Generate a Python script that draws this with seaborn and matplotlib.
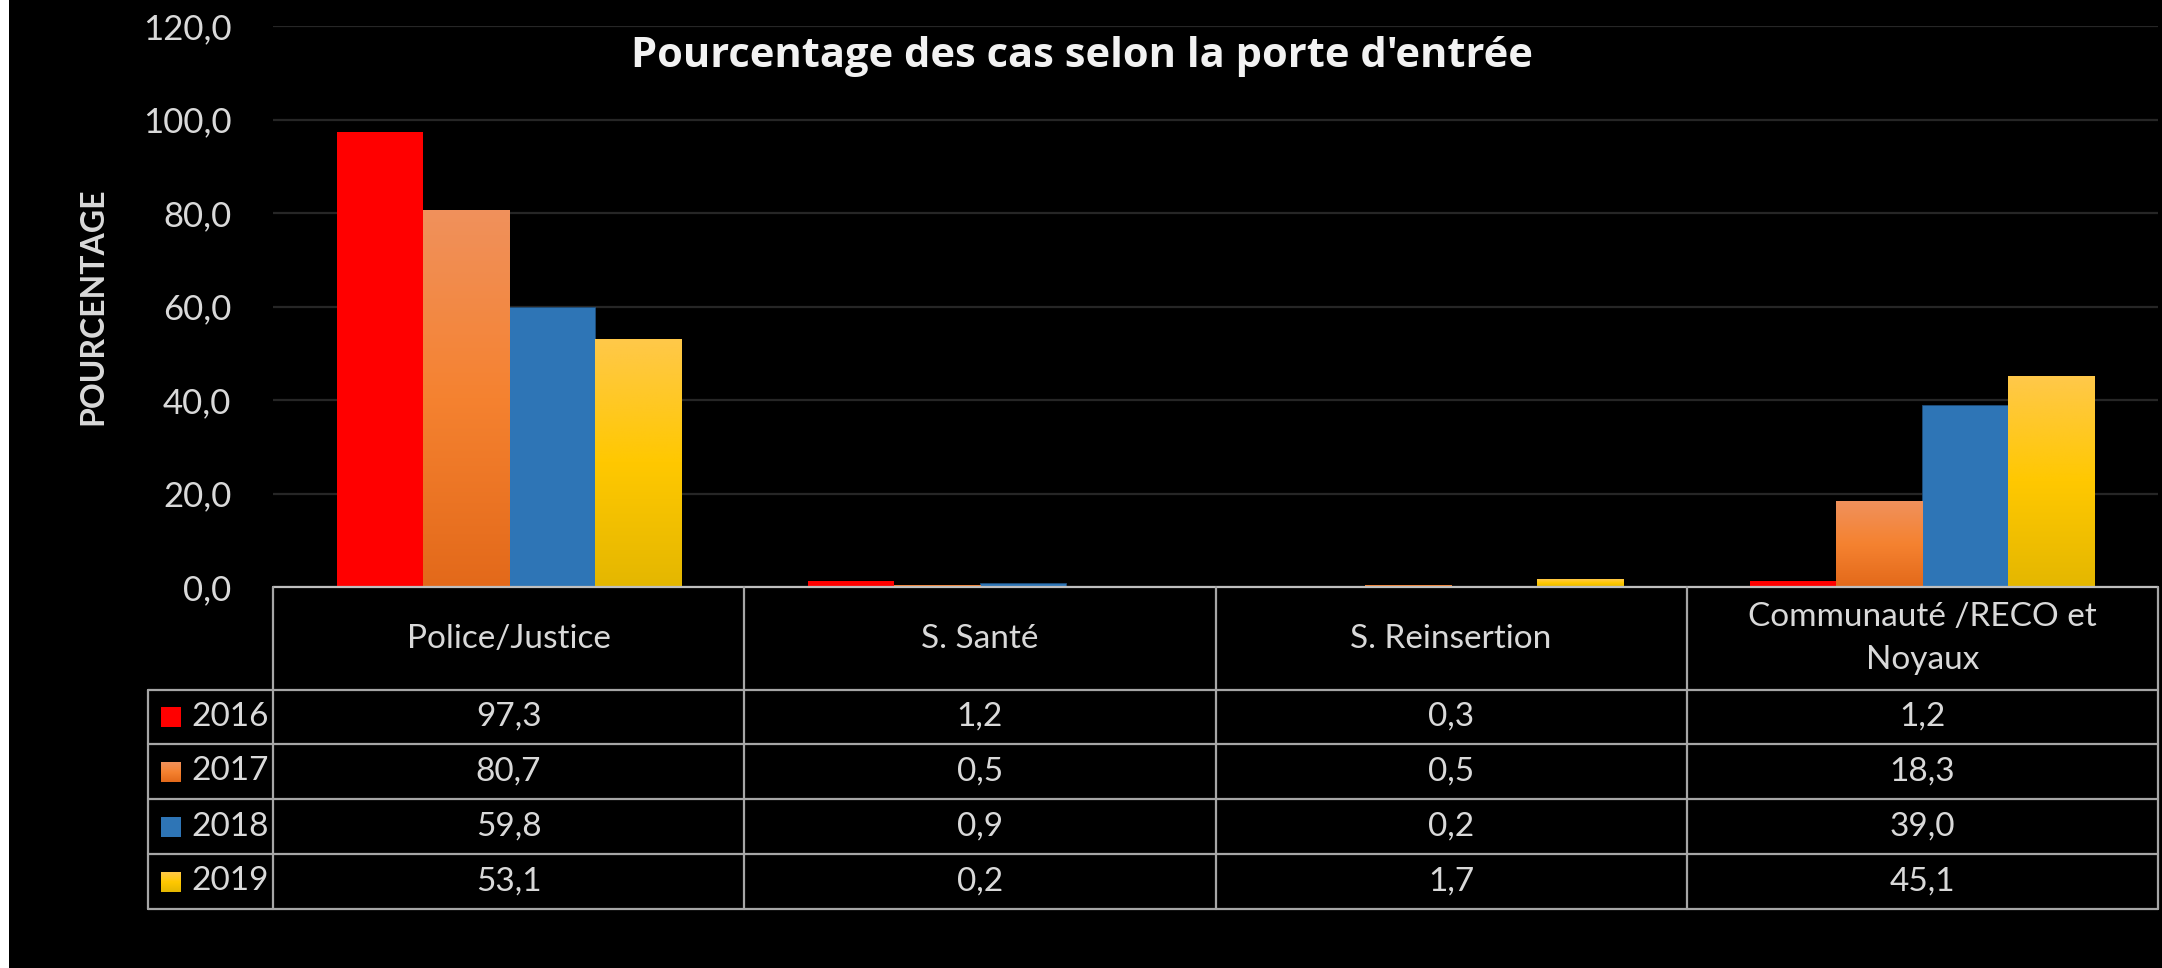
import numpy as np
import pandas as pd
import seaborn as sns
import matplotlib.pyplot as plt
from matplotlib.colors import LinearSegmentedColormap
from matplotlib.patches import Rectangle
from matplotlib.ticker import FuncFormatter
from matplotlib.transforms import blended_transform_factory

categories = ["Police/Justice", "S. Santé", "S. Reinsertion", "Communauté /RECO et\nNoyaux"]
years = ["2016", "2017", "2018", "2019"]
v2016 = [97.3, 1.2, 0.3, 1.2]
v2017 = [80.7, 0.5, 0.5, 18.3]
v2018 = [59.8, 0.9, 0.2, 39.0]
v2019 = [53.1, 0.2, 1.7, 45.1]
yticks = [0, 20, 40, 60, 80, 100, 120]

values = [v2016, v2017, v2018, v2019]
df = pd.DataFrame({
    "porte": categories * len(years),
    "annee": np.repeat(years, len(categories)),
    "pct": sum(values, []),
})

base_colors = {"2016": "#FF0000", "2017": "#F27F34", "2018": "#2E75B6", "2019": "#FFC60A"}
gradients = {
    "2017": LinearSegmentedColormap.from_list("g17", ["#E3691A", "#F58230", "#F0915C"]),
    "2019": LinearSegmentedColormap.from_list("g19", ["#E4B700", "#FFC800", "#FFC84A"]),
}

W, H = 2162, 968
FONT = "Lato"
TXT = "#D9D9D9"
LINE = "#A6A6A6"

sns.set_theme(style="dark")
plt.rcParams["font.family"] = [FONT, "DejaVu Sans"]

fig = plt.figure(figsize=(W / 100, H / 100), dpi=100, facecolor="black")
fig.patches.append(Rectangle((0, 0), 9 / W, 1, transform=fig.transFigure,
                             facecolor="white", edgecolor="none"))

ax = fig.add_axes([273 / W, 1 - 587 / H, (2158 - 273) / W, (587 - 26) / H])
ax.set_facecolor("black")

sns.barplot(data=df, x="porte", y="pct", hue="annee", hue_order=years,
            palette=base_colors, width=0.73, gap=0, saturation=1,
            linewidth=0, legend=False, ax=ax, zorder=3)

# vertical gradients on 2017 / 2019 bars
grad = np.linspace(0, 1, 256).reshape(-1, 1)
for year, cont in zip(years, ax.containers):
    for bar in cont:
        if year == "2018":
            bar.set_edgecolor("#1F4E79")
            bar.set_linewidth(0.6)
        if year in gradients and bar.get_height() > 0:
            x0, w, h = bar.get_x(), bar.get_width(), bar.get_height()
            im = ax.imshow(grad, extent=[x0, x0 + w, 0, h], origin="lower",
                           aspect="auto", cmap=gradients[year], zorder=4)
            im.set_clip_path(bar)

ax.set_xlim(-0.5, len(categories) - 0.5)
ax.set_ylim(0, 120)
ax.set_yticks(yticks)
ax.yaxis.set_major_formatter(FuncFormatter(lambda v, p: f"{v:.1f}".replace(".", ",")))
ax.tick_params(axis="y", length=0, pad=30, labelsize=25, labelcolor=TXT)
ax.set_xticks([])
ax.set_xlabel("")
ax.set_axisbelow(True)
ax.yaxis.grid(True, color="#262626", lw=1.6)
ax.xaxis.grid(False)
for s in ax.spines.values():
    s.set_visible(False)

ax.set_ylabel("POURCENTAGE", fontsize=23, fontweight="bold", color=TXT)
ax.yaxis.set_label_coords((107 - 273) / (2158 - 273), 0.5)

ax.set_title("Pourcentage des cas selon la porte d'entrée", fontsize=30,
             fontweight="bold", color="#F2F2F2", family=["Open Sans", "DejaVu Sans"],
             x=(1082 - 273) / (2158 - 273), y=(587 - 75) / (587 - 26))

# data table under the plot (x in data units, y in figure pixels from top)
tr = blended_transform_factory(ax.transData, fig.transFigure)
fy = lambda py: 1 - py / H
row_edges = [587, 690, 744, 799, 854, 909]
legend_left = 148

fig.canvas.draw()
xl = ax.transData.inverted().transform((legend_left, 0))[0]

line_kw = dict(color=LINE, lw=1.6, clip_on=False, transform=tr, zorder=6)
ax.plot([-0.5, 3.5], [fy(587), fy(587)], **{**line_kw, "color": "#BFBFBF"})
for py in row_edges[1:]:
    ax.plot([xl, 3.5], [fy(py), fy(py)], **line_kw)
for i in range(len(categories) + 1):
    ax.plot([i - 0.5, i - 0.5], [fy(587), fy(909)], **line_kw)
ax.plot([xl, xl], [fy(690), fy(909)], **line_kw)

for i, cat in enumerate(categories):
    ax.text(i, fy((587 + 690) / 2), cat, transform=tr, ha="center", va="center",
            fontsize=24, color=TXT, linespacing=1.55)
    for r, vals in enumerate(values):
        yc = (row_edges[r + 1] + row_edges[r + 2]) / 2
        ax.text(i, fy(yc), f"{vals[i]:.1f}".replace(".", ","), transform=tr,
                ha="center", va="center", fontsize=24, color=TXT)

for r, year in enumerate(years):
    yc = (row_edges[r + 1] + row_edges[r + 2]) / 2
    sq = fig.add_axes([161 / W, fy(yc + 10), 20 / W, 20 / H])
    sq.set_axis_off()
    if year in gradients:
        sq.imshow(grad, origin="lower", aspect="auto", cmap=gradients[year])
    else:
        sq.add_patch(Rectangle((0, 0), 1, 1, color=base_colors[year]))
    fig.text(191 / W, fy(yc), year, ha="left", va="center", fontsize=24, color=TXT)

fig.savefig("out.png", dpi=100, facecolor="black")
plt.close()
